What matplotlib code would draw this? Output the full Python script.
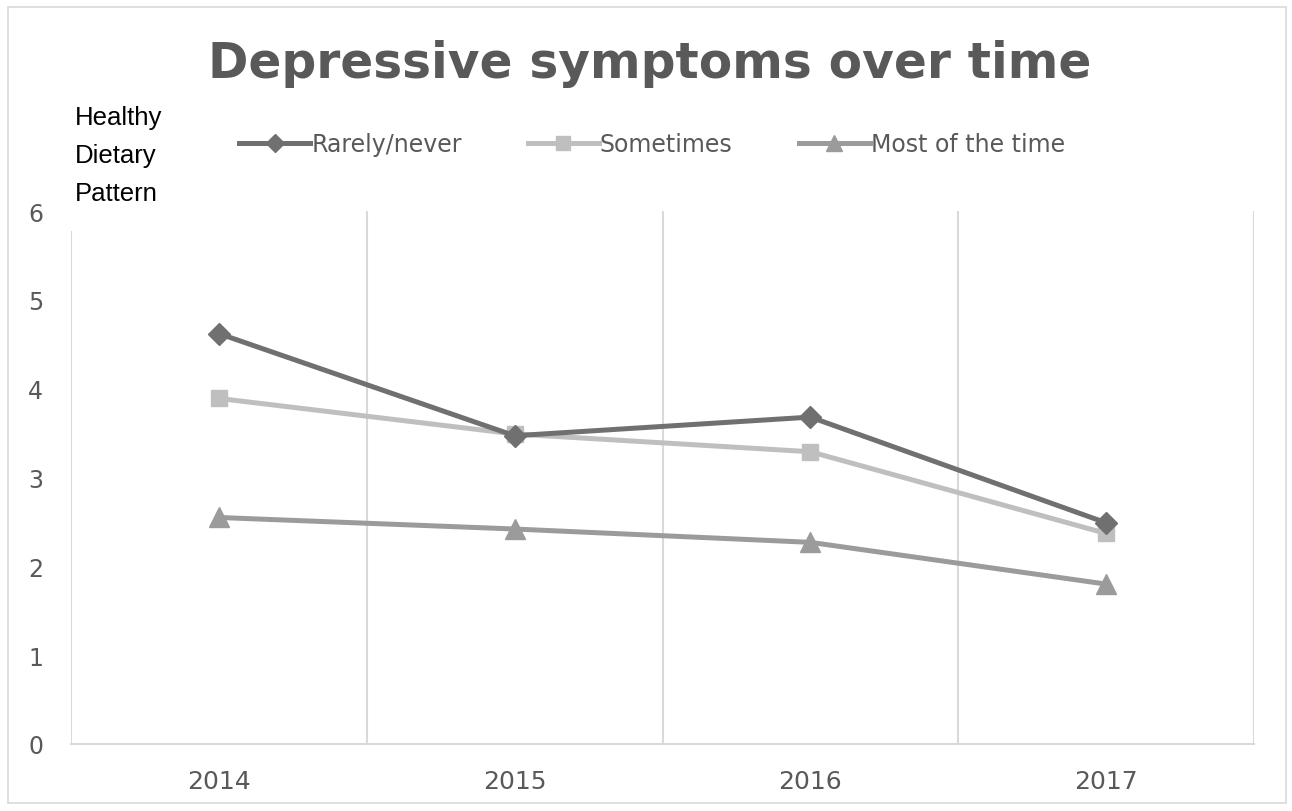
import matplotlib
matplotlib.use('Agg')
import matplotlib.pyplot as plt
from matplotlib.patches import Rectangle

# data
years = ['2014', '2015', '2016', '2017']
rarely_never = [4.62, 3.47, 3.68, 2.49]
sometimes = [3.89, 3.49, 3.29, 2.37]
most_of_time = [2.55, 2.42, 2.27, 1.80]
series_labels = ['Rarely/never', 'Sometimes', 'Most of the time']
y_ticks = [0, 1, 2, 3, 4, 5, 6]

txt_col = '#595959'
grid_col = '#d9d9d9'

fig = plt.figure(figsize=(12.92, 8.12), dpi=100)
fig.patch.set_facecolor('white')
# outer chart frame
fig.add_artist(Rectangle((8 / 1292, 8 / 812), 1278 / 1292, 796 / 812, transform=fig.transFigure,
                         fill=False, edgecolor='#d9d9d9', linewidth=1.2))

ax = fig.add_axes([71 / 1292, 1 - 745 / 812, (1254 - 71) / 1292, (745 - 212) / 812])
x = list(range(len(years)))

ax.plot(x, rarely_never, color='#707070', linewidth=3.6, marker='D', markersize=11,
        label=series_labels[0], zorder=4)
ax.plot(x, sometimes, color='#bfbfbf', linewidth=3.6, marker='s', markersize=12,
        label=series_labels[1], zorder=3)
ax.plot(x, most_of_time, color='#9b9b9b', linewidth=3.6, marker='^', markersize=14,
        label=series_labels[2], zorder=3)

ax.set_xlim(-0.5, len(years) - 0.5)
ax.set_ylim(0, 6)

# vertical gridlines at the category boundaries (Excel style)
for i, b in enumerate([k - 0.5 for k in range(len(years) + 1)]):
    ax.axvline(b, ymax=0.96 if i == 0 else 1, color=grid_col, linewidth=1.5, zorder=1)

for s in ['top', 'left', 'right']:
    ax.spines[s].set_visible(False)
ax.spines['bottom'].set_color(grid_col)
ax.spines['bottom'].set_linewidth(1.5)

ax.set_xticks(x)
ax.set_xticklabels(years)
ax.set_yticks(y_ticks)
ax.tick_params(axis='x', length=0, pad=18, labelsize=18, labelcolor=txt_col)
ax.tick_params(axis='y', length=0, pad=20, labelsize=17, labelcolor=txt_col)

fig.text(0.503, 1 - 64 / 812, 'Depressive symptoms over time', ha='center', va='center',
         fontsize=35, fontweight='bold', color=txt_col, family='DejaVu Sans')

fig.text(75 / 1292, 1 - 156 / 812, 'Healthy\nDietary\nPattern', ha='left', va='center',
         fontsize=18.5, color='black', family='Liberation Sans', linespacing=1.72)

leg = fig.legend(loc='center', bbox_to_anchor=(652 / 1292, 1 - 145 / 812), ncol=3,
                 frameon=False, handlelength=3.0, handletextpad=0.05, columnspacing=2.8,
                 fontsize=17, markerscale=0.8)
for t in leg.get_texts():
    t.set_color(txt_col)

fig.savefig('out.png', dpi=100)
